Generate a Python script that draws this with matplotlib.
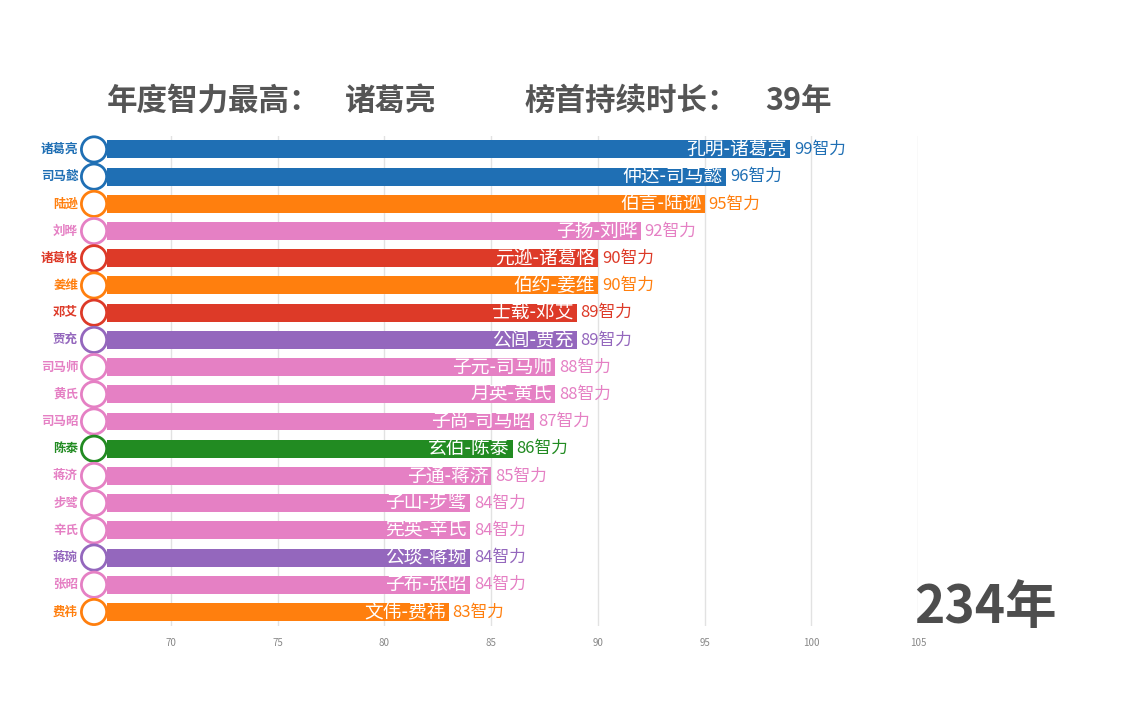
import matplotlib
matplotlib.use("Agg")
import matplotlib.pyplot as plt

plt.rcParams['font.family'] = ['Noto Sans CJK SC', 'DejaVu Sans']

# --- data ---
names = ['诸葛亮', '司马懿', '陆逊', '刘晔', '诸葛恪', '姜维', '邓艾', '贾充', '司马师',
         '黄氏', '司马昭', '陈泰', '蒋济', '步骘', '辛氏', '蒋琬', '张昭', '费祎']
full_names = ['孔明-诸葛亮', '仲达-司马懿', '伯言-陆逊', '子扬-刘晔', '元逊-诸葛恪', '伯约-姜维',
              '士载-邓艾', '公闾-贾充', '子元-司马师', '月英-黄氏', '子尚-司马昭', '玄伯-陈泰',
              '子通-蒋济', '子山-步骘', '宪英-辛氏', '公琰-蒋琬', '子布-张昭', '文伟-费祎']
values = [99, 96, 95, 92, 90, 90, 89, 89, 88, 88, 87, 86, 85, 84, 84, 84, 84, 83]
groups = ['蜀', '魏', '吴', '魏2', '吴2', '蜀2', '魏3', '晋', '魏2', '蜀3', '魏2', '魏4',
          '魏2', '吴3', '魏2', '蜀4', '吴3', '蜀2']
ticks = [70, 75, 80, 85, 90, 95, 100, 105]
year = 234
top_name = '诸葛亮'
top_years = 39

group_colors = {'蜀': '#1f6fb4', '魏': '#1f6fb4', '吴': '#ff7f0e', '蜀2': '#ff7f0e',
                '魏2': '#e580c4', '蜀3': '#e580c4', '吴3': '#e580c4',
                '吴2': '#dd3a28', '魏3': '#dd3a28', '晋': '#9467bd', '蜀4': '#9467bd',
                '魏4': '#228b22'}
colors = [group_colors[g] for g in groups]

fig = plt.figure(figsize=(11.46, 7.16), dpi=100)
ax = fig.add_axes([0.0934, 0.1263, 0.7077, 0.684])
xmin, xmax = 67, 105
ax.set_xlim(xmin, xmax)
ax.set_ylim(len(names) - 0.5, -0.5)

ypos = list(range(len(names)))
ax.barh(ypos, [v - xmin for v in values], left=xmin, height=0.66, color=colors, zorder=2)

px = (xmax - xmin) / 811.0  # data units per pixel
for y, n, fn, v, c in zip(ypos, names, full_names, values, colors):
    ax.text(v - 3 * px, y, fn, color='white', fontsize=13.5, ha='right', va='center',
            zorder=3)
    ax.text(v + 4 * px, y, f'{v}智力', color=c, fontsize=12, ha='left', va='center',
            zorder=3)
    ax.text(xmin - 29 * px, y, n, color=c, fontsize=9, fontweight='bold', ha='right',
            va='center', clip_on=False)
ax.scatter([xmin - 13 * px] * len(names), ypos, s=330, facecolor='white',
           edgecolor=colors, linewidth=2, zorder=4, clip_on=False)

ax.set_xticks(ticks)
ax.set_xticklabels([str(t) for t in ticks], fontsize=7, color='#888888')
ax.tick_params(axis='x', length=0, pad=9)
ax.set_yticks([])
ax.grid(axis='x', color='#e2e2e2', linewidth=1, zorder=0)
for s in ax.spines.values():
    s.set_visible(False)

ty = 1 - 101 / 716
tstyle = dict(fontsize=22, fontweight='bold', color='#555555', ha='left', va='center')
fig.text(107 / 1146, ty, '年度智力最高：', **tstyle)
fig.text(345 / 1146, ty, top_name, **tstyle)
fig.text(525 / 1146, ty, '榜首持续时长：', **tstyle)
fig.text(765 / 1146, ty, f'{top_years}年', **tstyle)
fig.text(914 / 1146, 1 - 607 / 716, f'{year}年', fontsize=37, fontweight='bold',
         color='#4d4d4d', ha='left', va='center')

fig.savefig('out.png', dpi=100, facecolor='white')
